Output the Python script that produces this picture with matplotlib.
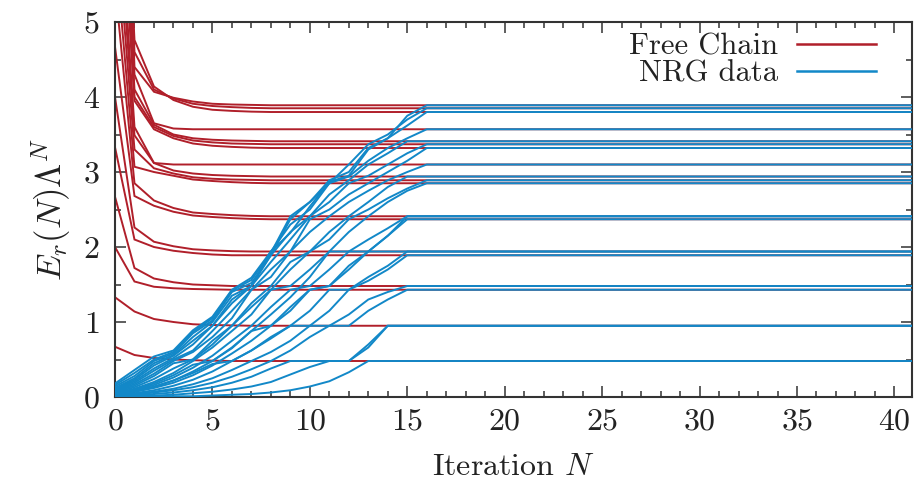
import numpy as np
import matplotlib
matplotlib.use("Agg")
import matplotlib.pyplot as plt
from matplotlib.ticker import MultipleLocator

plt.rcParams['font.family'] = 'serif'
plt.rcParams['font.serif'] = ['cmr10', 'DejaVu Serif']
plt.rcParams['mathtext.fontset'] = 'cm'
plt.rcParams['axes.formatter.use_mathtext'] = True

N_MAX = 41

# ---- Free chain (red): early values from N=0, then the plateau ----
red_plateaus = [0.48, 0.95, 1.43, 1.48, 1.89, 1.94, 2.37, 2.41, 2.85, 2.89,
                2.94, 3.10, 3.32, 3.37, 3.41, 3.57, 3.80, 3.85, 3.89]
red_early = [
    [0.67, 0.56, 0.52, 0.50, 0.49, 0.485],
    [1.33, 1.14, 1.04, 1.00, 0.97, 0.96, 0.955],
    [2.00, 1.54, 1.47, 1.45, 1.44, 1.435],
    [2.67, 1.72, 1.58, 1.53, 1.50, 1.49],
    [3.33, 2.10, 2.00, 1.95, 1.92, 1.90],
    [4.00, 2.26, 2.07, 2.01, 1.97, 1.955, 1.945],
    [4.67, 2.68, 2.55, 2.47, 2.42, 2.40, 2.385, 2.375],
    [5.50, 2.85, 2.62, 2.52, 2.46, 2.44, 2.425, 2.415],
    [6.00, 3.07, 3.00, 2.95, 2.90, 2.88, 2.865, 2.855],
    [6.50, 3.30, 3.05, 2.98, 2.93, 2.91, 2.90, 2.895],
    [7.00, 3.49, 3.12, 3.02, 2.98, 2.96, 2.95, 2.945],
    [7.50, 3.60, 3.12],
    [8.00, 3.95, 3.57, 3.45, 3.38, 3.35, 3.335, 3.325],
    [8.50, 4.00, 3.60, 3.48, 3.42, 3.395, 3.38, 3.375],
    [9.00, 4.10, 3.63, 3.50, 3.45, 3.43, 3.42, 3.415],
    [9.50, 4.30, 3.65, 3.58],
    [10.0, 4.76, 4.14, 3.96, 3.87, 3.83, 3.815, 3.805],
    [10.5, 4.60, 4.10, 3.98, 3.91, 3.88, 3.865, 3.855],
    [11.0, 4.40, 4.07, 3.99, 3.94, 3.91, 3.90, 3.895],
]

# ---- NRG data (blue): values from N=0 until the plateau is reached ----
blue_plateaus = [0.48, 0.95, 0.95, 1.43, 1.48, 1.89, 1.94, 2.37, 2.41, 1.94,
                 2.41, 2.85, 2.89, 2.94, 3.10, 3.32, 3.37, 3.41, 3.57, 3.80,
                 3.85, 3.89]
blue_early = [
    [0.00, 0.00, 0.01, 0.01, 0.01, 0.02, 0.03, 0.04, 0.06, 0.09, 0.14, 0.21, 0.33],
    [0.01, 0.01, 0.02, 0.03, 0.05, 0.07, 0.10, 0.14, 0.20, 0.30, 0.40, 0.48, 0.48, 0.66],
    [0.01, 0.02, 0.04, 0.06, 0.09, 0.13, 0.19, 0.27, 0.38, 0.48, 0.48, 0.48, 0.48, 0.70],
    [0.02, 0.03, 0.06, 0.09, 0.13, 0.19, 0.27, 0.37, 0.48, 0.62, 0.80, 0.95, 0.95, 1.15, 1.30],
    [0.02, 0.04, 0.07, 0.11, 0.17, 0.25, 0.36, 0.48, 0.60, 0.75, 0.95, 0.95, 1.10, 1.30, 1.40],
    [0.03, 0.05, 0.09, 0.15, 0.23, 0.34, 0.48, 0.62, 0.78, 0.95, 0.95, 1.15, 1.43, 1.55, 1.70],
    [0.03, 0.07, 0.13, 0.22, 0.34, 0.48, 0.66, 0.88, 1.10, 1.33, 1.60],
    [0.04, 0.07, 0.12, 0.19, 0.29, 0.42, 0.58, 0.75, 0.95, 1.15, 1.43, 1.48, 1.70, 1.94, 2.15],
    [0.04, 0.09, 0.16, 0.26, 0.39, 0.55, 0.75, 0.95, 1.20, 1.43, 1.48, 1.70, 1.94, 2.10, 2.25],
    [0.04, 0.08, 0.14, 0.22, 0.32, 0.44, 0.48, 0.62, 0.80, 0.95, 1.15, 1.43, 1.43, 1.60, 1.75],
    [0.05, 0.10, 0.18, 0.29, 0.43, 0.48, 0.65, 0.88, 0.95, 1.20, 1.43, 1.48, 1.75, 1.94, 2.15],
    [0.05, 0.11, 0.20, 0.32, 0.48, 0.66, 0.88, 1.10, 1.43, 1.48, 1.70, 1.94, 2.20, 2.41, 2.60, 2.75],
    [0.06, 0.13, 0.24, 0.38, 0.50, 0.70, 0.95, 1.20, 1.43, 1.70, 1.94, 2.10, 2.37, 2.50, 2.65, 2.78],
    [0.07, 0.15, 0.28, 0.45, 0.50, 0.75, 0.95, 1.25, 1.48, 1.80, 1.94, 2.20, 2.41, 2.60, 2.80],
    [0.08, 0.17, 0.31, 0.48, 0.60, 0.80, 1.05, 1.43, 1.60, 1.94, 2.20, 2.41, 2.60, 2.75, 2.89, 3.00],
    [0.09, 0.19, 0.35, 0.50, 0.62, 0.88, 1.15, 1.43, 1.70, 1.94, 2.37, 2.50, 2.70, 2.85, 3.00, 3.15],
    [0.10, 0.21, 0.38, 0.52, 0.70, 0.95, 1.25, 1.48, 1.80, 2.10, 2.41, 2.60, 2.85, 2.95, 3.10, 3.25],
    [0.11, 0.23, 0.42, 0.55, 0.75, 0.95, 1.30, 1.48, 1.89, 2.20, 2.41, 2.70, 2.89, 3.10, 3.25],
    [0.12, 0.25, 0.45, 0.56, 0.80, 1.00, 1.35, 1.48, 1.94, 2.30, 2.50, 2.85, 2.94, 3.15, 3.32, 3.45],
    [0.14, 0.28, 0.48, 0.58, 0.85, 1.02, 1.40, 1.52, 1.89, 2.37, 2.60, 2.89, 3.00, 3.32, 3.45, 3.62],
    [0.16, 0.32, 0.50, 0.60, 0.87, 1.05, 1.42, 1.56, 1.92, 2.41, 2.60, 2.85, 3.10, 3.37, 3.50, 3.70],
    [0.18, 0.36, 0.54, 0.62, 0.89, 1.07, 1.43, 1.59, 1.94, 2.19, 2.54, 2.87, 2.95, 3.30, 3.45, 3.75],
]

RED = '#b01f2a'
BLUE = '#1288c8'
FS = 23

fig = plt.figure(figsize=(9.17, 4.87), dpi=100)
ax = fig.add_axes([0.1254, 0.1848, 0.8691, 0.7700])


def series(early, plateau):
    y = list(early) + [plateau, plateau]
    x = list(range(len(early) + 1)) + [N_MAX]
    return x, y


for k, (early, p) in enumerate(zip(red_early, red_plateaus)):
    x, y = series(early, p)
    ax.plot(x, y, color=RED, lw=1.4, label='Free Chain' if k == 0 else None,
            solid_joinstyle='miter', zorder=2)
for k, (early, p) in enumerate(zip(blue_early, blue_plateaus)):
    x, y = series(early, p)
    ax.plot(x, y, color=BLUE, lw=1.4, label='NRG data' if k == 0 else None,
            solid_joinstyle='miter', zorder=3)

ax.set_xlim(0, 40.9)
ax.set_ylim(0, 5)
ax.xaxis.set_major_locator(MultipleLocator(5))
ax.xaxis.set_minor_locator(MultipleLocator(1))
ax.yaxis.set_major_locator(MultipleLocator(1))
ax.yaxis.set_minor_locator(MultipleLocator(0.5))
ax.tick_params(which='both', direction='in', top=True, right=True,
               colors='#333333', labelcolor='#222222', labelsize=FS, width=1.1)
ax.tick_params(which='major', length=8)
ax.tick_params(axis='x', which='major', pad=8)
ax.tick_params(axis='y', which='major', pad=11)
ax.tick_params(which='minor', length=4)
for s in ax.spines.values():
    s.set_linewidth(1.5)
    s.set_color('#333333')

ax.set_xlabel(r'Iteration $N$', fontsize=FS, color='#222222', labelpad=13)
ax.set_ylabel(r'$E_r(N)\Lambda^N$', fontsize=25, color='#222222', labelpad=6)

leg = ax.legend(loc='upper right', frameon=False, markerfirst=False,
                fontsize=22, handlelength=2.6, handletextpad=0.6,
                labelspacing=0.0, borderaxespad=0.3, bbox_to_anchor=(0.982, 1.028))
for t in leg.get_texts():
    t.set_color('#222222')
for h in leg.legend_handles:
    h.set_linewidth(1.8)

fig.savefig('out.png', dpi=100)
